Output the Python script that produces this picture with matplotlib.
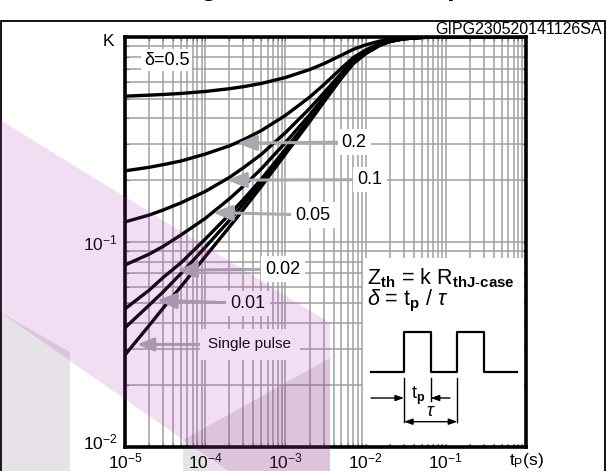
import matplotlib
matplotlib.use('Agg')
import matplotlib.pyplot as plt
from matplotlib.patches import Polygon, Rectangle
from matplotlib.ticker import NullFormatter
from matplotlib.transforms import ScaledTranslation

plt.rcParams['font.family'] = ['Liberation Sans', 'DejaVu Sans']
plt.rcParams['mathtext.fontset'] = 'custom'
plt.rcParams['mathtext.rm'] = 'Liberation Sans'
plt.rcParams['mathtext.it'] = 'Liberation Sans:italic'
plt.rcParams['mathtext.bf'] = 'Liberation Sans:bold'

# pulse duration (s)
tp = [1e-5, 2e-5, 3e-5, 5e-5, 1e-4, 2e-4, 3e-4, 5e-4, 1e-3, 2e-3,
      3e-3, 5e-3, 7e-3, 1e-2, 1.5e-2, 2e-2, 3e-2, 5e-2, 0.1, 1.0]

# normalized thermal impedance K
k_05 = [0.514, 0.520, 0.524, 0.530, 0.542, 0.559, 0.572, 0.593, 0.634, 0.693,
        0.740, 0.815, 0.870, 0.915, 0.955, 0.975, 0.990, 0.998, 1.0, 1.0]
k_02 = [0.222, 0.231, 0.238, 0.248, 0.268, 0.294, 0.315, 0.349, 0.414, 0.508,
        0.584, 0.704, 0.792, 0.864, 0.928, 0.960, 0.984, 0.996, 1.0, 1.0]
k_01 = [0.125, 0.135, 0.143, 0.155, 0.176, 0.206, 0.230, 0.267, 0.341, 0.447,
        0.532, 0.667, 0.766, 0.847, 0.919, 0.955, 0.982, 0.996, 1.0, 1.0]
k_005 = [0.077, 0.087, 0.095, 0.108, 0.130, 0.162, 0.187, 0.227, 0.305, 0.416,
         0.506, 0.649, 0.753, 0.839, 0.915, 0.953, 0.981, 0.995, 1.0, 1.0]
k_002 = [0.047, 0.058, 0.067, 0.079, 0.103, 0.136, 0.161, 0.202, 0.283, 0.397,
         0.490, 0.637, 0.745, 0.833, 0.912, 0.951, 0.980, 0.995, 1.0, 1.0]
k_001 = [0.038, 0.049, 0.057, 0.070, 0.094, 0.127, 0.153, 0.194, 0.275, 0.391,
         0.485, 0.634, 0.743, 0.832, 0.911, 0.951, 0.980, 0.995, 1.0, 1.0]
k_single = [0.028, 0.039, 0.0475, 0.0605, 0.0845, 0.118, 0.144, 0.186, 0.268, 0.385,
            0.480, 0.630, 0.740, 0.830, 0.910, 0.950, 0.980, 0.995, 1.0, 1.0]

curves = [k_05, k_02, k_01, k_005, k_002, k_001, k_single]

# curve labels: text, arrow tip (tp, K), text centre (tp, K)
label_text = ['0.2', '0.1', '0.05', '0.02', '0.01', 'Single pulse']
label_tip = [(2.5e-4, 0.303), (1.87e-4, 0.200), (1.25e-4, 0.139),
             (4.45e-5, 0.0726), (2.5e-5, 0.0518), (1.41e-5, 0.0315)]
label_pos = [(7.2e-3, 0.307), (1.13e-2, 0.201), (2.2e-3, 0.135),
             (9.3e-4, 0.0735), (3.4e-4, 0.050), (3.6e-4, 0.0315)]

xticks = [1e-5, 1e-4, 1e-3, 1e-2, 1e-1, 1]
xticklabels = ['$10^{-5}$', '$10^{-4}$', '$10^{-3}$', '$10^{-2}$', '$10^{-1}$', 't$_\\mathregular{P}$(s)']
yticks = [1e-2, 1e-1, 1]
yticklabels = ['$10^{-2}$', '$10^{-1}$', 'K']

W, H = 606, 471


def fx(px):
    return px / W


def fy(py):
    return 1 - py / H


fig = plt.figure(figsize=(W / 100, H / 100), dpi=100)
ax = fig.add_axes([fx(125), fy(446.5), fx(526) - fx(125), fy(37) - fy(446.5)])

for k in curves:
    ax.plot(tp, k, color='black', lw=2.4, solid_capstyle='butt', zorder=3)

ax.set_xscale('log')
ax.set_yscale('log')
ax.set_xlim(1e-5, 1)
ax.set_ylim(1e-2, 1)
ax.grid(which='both', color='#a0a0a0', lw=1.1)
ax.set_axisbelow(True)
for s in ax.spines.values():
    s.set_linewidth(2.6)

ax.set_xticks(xticks)
ax.set_xticklabels(xticklabels, fontsize=12.5)
ax.set_yticks(yticks)
ax.set_yticklabels(yticklabels, fontsize=12.5)
ax.xaxis.set_minor_formatter(NullFormatter())
ax.yaxis.set_minor_formatter(NullFormatter())
ax.tick_params(which='both', direction='in', top=True, right=True, length=3, width=0.8, color='#777777')
ax.tick_params(axis='x', pad=3.5)
ax.tick_params(axis='y', pad=5)
# nudge the lowest and highest y labels like the original
ylabs = ax.get_yticklabels()
ylabs[0].set_transform(ylabs[0].get_transform() + ScaledTranslation(0, 6 / 100, fig.dpi_scale_trans))
ylabs[2].set_transform(ylabs[2].get_transform() + ScaledTranslation(-4 / 100, -3 / 100, fig.dpi_scale_trans))

ax.text(3.3e-5, 0.77, 'δ=0.5', fontsize=13, ha='center', va='center', zorder=5,
        bbox=dict(fc='white', ec='none', pad=2))

for txt, tip, pos in zip(label_text, label_tip, label_pos):
    fs = 11 if txt == 'Single pulse' else 13
    ax.annotate(txt, xy=tip, xytext=pos, fontsize=fs, ha='center', va='center', zorder=5,
                bbox=dict(fc='white', ec='none', pad=3 if fs == 13 else 6),
                arrowprops=dict(arrowstyle='-|>,head_length=0.9,head_width=0.36',
                                color='#a9a9b1', lw=2.2, shrinkA=0, shrinkB=0))

# inset with the definition and the pulse train
ins = fig.add_axes([fx(363), fy(444), fx(524) - fx(363), fy(258) - fy(444)])
ins.set_xlim(363, 524)
ins.set_ylim(444, 258)
ins.set_facecolor('white')
ins.set_xticks([])
ins.set_yticks([])
for s in ins.spines.values():
    s.set_visible(False)
ins.text(367, 278, r'Z$_{\mathbf{th}}$ = k R$_{\mathbf{thJ\text{-}case}}$', fontsize=15.5, va='center')
ins.text(367, 301, r'$\delta$ = t$_{\mathbf{p}}$ / $\tau$', fontsize=15.5, va='center')
ins.plot([371, 404, 404, 430.7, 430.7, 457.3, 457.3, 484, 484, 516.7],
         [371.7, 371.7, 331.7, 331.7, 371.7, 371.7, 331.7, 331.7, 371.7, 371.7],
         color='black', lw=1.6)
ins.plot([404, 404], [378, 422], color='black', lw=1)
ins.plot([430.7, 430.7], [378, 401], color='black', lw=1)
ins.plot([457.3, 457.3], [378, 422], color='black', lw=1)
arr = dict(arrowstyle='-|>,head_length=0.5,head_width=0.18', color='black', lw=1,
           shrinkA=0, shrinkB=0)
ins.annotate('', xy=(404, 398), xytext=(371, 398), arrowprops=arr)
ins.annotate('', xy=(430.7, 398), xytext=(450, 398), arrowprops=arr)
ins.annotate('', xy=(457.3, 421.7), xytext=(404, 421.7),
             arrowprops=dict(arrowstyle='<|-|>,head_length=0.5,head_width=0.18',
                             color='black', lw=1, shrinkA=0, shrinkB=0))
ins.text(418, 396, r't$_{\mathbf{p}}$', fontsize=13, ha='center', va='center')
ins.text(430.5, 411, r'$\tau$', fontsize=13, ha='center', va='center')

fig.text(fx(602), fy(30), 'GIPG230520141126SA', fontsize=11.5, ha='right', va='center')
# title sits above the visible area, only its descenders show
fig.text(fx(368), fy(-5), 'Figure 3. Thermal impedance', fontsize=20, fontweight='bold',
         ha='center', va='baseline')

fig.add_artist(Rectangle((fx(0.7), -0.05), fx(604.6), fy(21) + 0.05, fill=False,
                         lw=1.3, ec='black', transform=fig.transFigure, zorder=20))

# faint watermark
wm_pink = [(0, 120), (330, 323), (330, 471), (228, 471), (0, 312)]
wm_grey = [[(0, 312), (70, 352), (70, 471), (0, 471)],
           [(183, 440), (330, 358), (330, 471), (183, 471)]]
fig.add_artist(Polygon([(fx(a), fy(b)) for a, b in wm_pink], closed=True, fc=(0.7, 0.2, 0.7),
                       ec='none', alpha=0.16, transform=fig.transFigure, zorder=30))
for poly in wm_grey:
    fig.add_artist(Polygon([(fx(a), fy(b)) for a, b in poly], closed=True, fc=(0.35, 0.2, 0.35),
                           ec='none', alpha=0.14, transform=fig.transFigure, zorder=30))

fig.savefig('out.png', dpi=100)
